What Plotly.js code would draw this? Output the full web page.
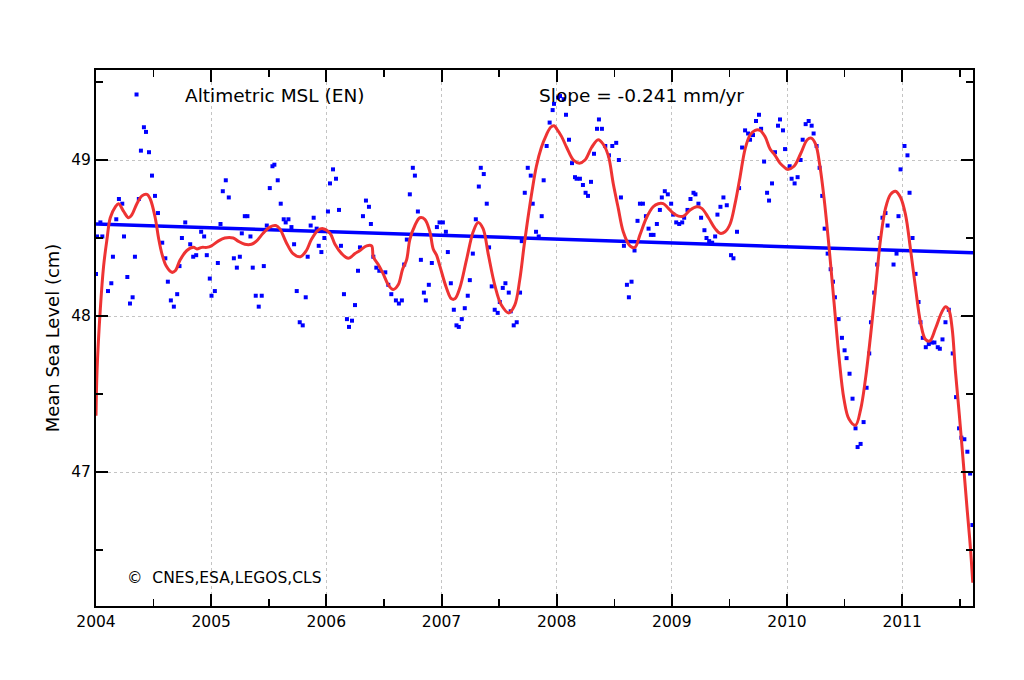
<!DOCTYPE html>
<html>
<head>
<meta charset="utf-8">
<script src="https://cdn.plot.ly/plotly-3.0.1.min.js"></script>
<style>html,body{margin:0;padding:0;background:#fff;}#chart{width:1024px;height:680px;}</style>
</head>
<body>
<div id="chart"></div>
<script>
// Observed mean sea level (cm), ~10-day sampling, decimal years
var obsTime = [
2004.000,2004.009,2004.038,2004.055,2004.104,2004.133,2004.147,2004.176,2004.199,2004.228,
2004.243,2004.272,2004.295,2004.318,2004.338,2004.352,2004.372,2004.390,2004.416,2004.434,
2004.460,2004.486,2004.512,2004.538,2004.575,2004.602,2004.624,2004.650,2004.676,2004.705,
2004.725,2004.746,2004.775,2004.818,2004.844,2004.870,2004.913,2004.939,2004.962,2004.988,
2005.003,2005.032,2005.058,2005.081,2005.101,2005.127,2005.153,2005.197,2005.223,2005.249,
2005.266,2005.292,2005.315,2005.341,2005.361,2005.387,2005.413,2005.439,2005.457,2005.483,
2005.509,2005.532,2005.549,2005.578,2005.604,2005.630,2005.647,2005.671,2005.697,2005.720,
2005.743,2005.769,2005.795,2005.821,2005.838,2005.864,2005.890,2005.916,2005.934,2005.957,
2005.983,2006.014,2006.032,2006.058,2006.084,2006.110,2006.127,2006.153,2006.179,2006.197,
2006.223,2006.249,2006.275,2006.292,2006.318,2006.344,2006.370,2006.387,2006.408,2006.434,
2006.460,2006.512,2006.538,2006.564,2006.604,2006.630,2006.656,2006.676,2006.699,2006.725,
2006.751,2006.769,2006.795,2006.821,2006.847,2006.864,2006.890,2006.916,2006.960,2006.983,
2007.012,2007.038,2007.055,2007.081,2007.107,2007.130,2007.150,2007.176,2007.202,2007.228,
2007.246,2007.272,2007.298,2007.324,2007.341,2007.367,2007.393,2007.413,2007.436,2007.462,
2007.488,2007.506,2007.532,2007.555,2007.584,2007.601,2007.627,2007.653,2007.682,2007.697,
2007.723,2007.749,2007.775,2007.792,2007.821,2007.844,2007.870,2007.887,2007.913,2007.939,
2007.965,2007.977,2008.012,2008.029,2008.061,2008.081,2008.107,2008.133,2008.159,2008.173,
2008.202,2008.228,2008.251,2008.272,2008.298,2008.324,2008.350,2008.367,2008.393,2008.422,
2008.454,2008.483,2008.517,2008.540,2008.558,2008.584,2008.610,2008.627,2008.650,2008.676,
2008.702,2008.723,2008.749,2008.775,2008.798,2008.818,2008.841,2008.870,2008.896,2008.913,
2008.939,2008.965,2008.994,2009.012,2009.038,2009.064,2009.090,2009.107,2009.136,2009.162,
2009.188,2009.205,2009.231,2009.254,2009.283,2009.301,2009.324,2009.350,2009.376,2009.396,
2009.422,2009.448,2009.477,2009.514,2009.535,2009.566,2009.584,2009.610,2009.636,2009.662,
2009.679,2009.705,2009.731,2009.757,2009.775,2009.801,2009.827,2009.844,2009.870,2009.896,
2009.922,2009.939,2009.965,2009.983,2010.023,2010.040,2010.066,2010.092,2010.118,2010.136,
2010.162,2010.188,2010.214,2010.231,2010.257,2010.283,2010.306,2010.327,2010.353,2010.379,
2010.399,2010.416,2010.448,2010.477,2010.500,2010.517,2010.543,2010.569,2010.595,2010.613,
2010.639,2010.665,2010.691,2010.714,2010.729,2010.757,2010.783,2010.803,2010.829,2010.855,
2010.873,2010.925,2010.951,2010.968,2010.986,2011.020,2011.046,2011.064,2011.090,2011.116,
2011.142,2011.159,2011.179,2011.205,2011.231,2011.257,2011.280,2011.309,2011.327,2011.350,
2011.376,2011.405,2011.439,2011.468,2011.494,2011.514,2011.540,2011.566,2011.590,2011.610
];
var obsMsl = [
48.27,48.51,48.60,48.51,48.16,48.21,48.38,48.62,48.75,48.72,
48.51,48.25,48.08,48.12,48.38,49.42,48.75,49.06,49.21,49.18,
49.05,48.90,48.77,48.66,48.47,48.37,48.22,48.10,48.06,48.14,
48.32,48.50,48.60,48.46,48.38,48.39,48.54,48.51,48.39,48.24,
48.13,48.16,48.34,48.59,48.80,48.87,48.76,48.37,48.31,48.38,
48.53,48.64,48.64,48.51,48.31,48.13,48.06,48.13,48.32,48.58,
48.82,48.96,48.97,48.87,48.72,48.62,48.60,48.62,48.57,48.46,
48.16,47.96,47.94,48.12,48.38,48.58,48.63,48.56,48.45,48.41,
48.50,48.67,48.85,48.94,48.88,48.68,48.45,48.14,47.98,47.93,
47.97,48.07,48.29,48.44,48.64,48.74,48.70,48.59,48.38,48.31,
48.29,48.28,48.20,48.14,48.10,48.08,48.10,48.33,48.49,48.78,
48.95,48.90,48.67,48.36,48.15,48.10,48.20,48.34,48.57,48.60,
48.60,48.54,48.41,48.21,48.04,47.94,47.93,47.98,48.05,48.13,
48.23,48.40,48.62,48.83,48.95,48.91,48.72,48.44,48.19,48.04,
48.02,48.09,48.18,48.21,48.15,48.03,47.94,47.96,48.15,48.48,
48.79,48.95,48.90,48.72,48.54,48.51,48.64,48.87,49.09,49.24,
49.32,49.36,49.40,49.41,49.39,49.29,49.13,48.98,48.89,48.88,
48.88,48.84,48.79,48.77,48.86,49.04,49.20,49.26,49.20,49.09,
49.03,49.09,49.11,49.00,48.76,48.45,48.20,48.12,48.22,48.42,
48.61,48.72,48.72,48.64,48.56,48.52,48.52,48.59,48.68,48.76,
48.80,48.78,48.72,48.65,48.60,48.59,48.60,48.63,48.68,48.75,
48.79,48.78,48.72,48.63,48.55,48.50,48.48,48.47,48.51,48.65,
48.70,48.76,48.71,48.39,48.37,48.54,48.82,49.08,49.19,49.17,
49.13,49.16,49.25,49.29,49.20,48.99,48.79,48.74,48.85,49.05,
49.22,49.26,49.19,49.07,48.96,48.88,48.85,48.89,49.00,49.13,
49.23,49.25,49.22,49.17,49.09,48.95,48.77,48.56,48.40,48.30,
48.22,48.12,47.98,47.86,47.78,47.73,47.63,47.47,47.28,47.16,
47.18,47.32,47.54,47.76,47.96,48.15,48.33,48.50,48.63,48.66,
48.58,48.33,48.40,48.64,48.94,49.09,49.03,48.79,48.50,48.27,
48.09,47.96,47.86,47.80,47.82,47.83,47.83,47.80,47.79,47.85,
47.96,48.04,47.76,47.48,47.28,47.22,47.21,47.13,46.99,46.66
];
// Smoothed (filtered) curve
var smoothTime = [
2004.000,2004.009,2004.038,2004.066,2004.095,2004.124,2004.168,2004.197,2004.240,2004.283,
2004.312,2004.355,2004.399,2004.442,2004.471,2004.514,2004.543,2004.572,2004.610,2004.659,
2004.688,2004.731,2004.789,2004.847,2004.876,2004.919,2004.962,2005.003,2005.061,2005.118,
2005.191,2005.234,2005.292,2005.350,2005.393,2005.451,2005.509,2005.561,2005.595,2005.653,
2005.711,2005.775,2005.827,2005.870,2005.928,2005.971,2006.032,2006.075,2006.133,2006.191,
2006.249,2006.292,2006.350,2006.393,2006.408,2006.451,2006.494,2006.538,2006.581,2006.624,
2006.662,2006.697,2006.725,2006.769,2006.812,2006.855,2006.899,2006.928,2006.957,2006.986,
2007.043,2007.087,2007.116,2007.159,2007.217,2007.275,2007.318,2007.361,2007.405,2007.462,
2007.520,2007.584,2007.636,2007.679,2007.717,2007.751,2007.786,2007.824,2007.867,2007.910,
2007.948,2007.977,2008.000,2008.043,2008.087,2008.145,2008.197,2008.246,2008.303,2008.361,
2008.405,2008.448,2008.491,2008.535,2008.578,2008.636,2008.679,2008.723,2008.780,2008.838,
2008.882,2008.925,2008.970,2009.010,2009.058,2009.101,2009.159,2009.217,2009.260,2009.318,
2009.376,2009.419,2009.462,2009.506,2009.549,2009.592,2009.636,2009.679,2009.723,2009.766,
2009.809,2009.853,2009.896,2009.939,2009.983,2010.003,2010.061,2010.118,2010.176,2010.211,
2010.249,2010.286,2010.321,2010.364,2010.408,2010.451,2010.494,2010.538,2010.595,2010.639,
2010.682,2010.725,2010.769,2010.812,2010.855,2010.899,2010.942,2010.986,2011.029,2011.072,
2011.116,2011.159,2011.202,2011.240,2011.289,2011.341,2011.376,2011.405,2011.434,2011.462,
2011.497,2011.532,2011.564,2011.592,2011.613
];
var smoothMsl = [
47.36,47.65,48.05,48.32,48.49,48.63,48.70,48.72,48.67,48.63,
48.65,48.72,48.77,48.78,48.75,48.63,48.50,48.40,48.32,48.28,
48.29,48.36,48.42,48.44,48.43,48.44,48.44,48.45,48.48,48.50,
48.50,48.48,48.46,48.46,48.48,48.53,48.57,48.58,48.56,48.47,
48.40,48.38,48.42,48.49,48.55,48.56,48.53,48.46,48.40,48.37,
48.40,48.42,48.45,48.45,48.38,48.33,48.27,48.20,48.17,48.20,
48.30,48.36,48.49,48.58,48.63,48.62,48.54,48.43,48.39,48.32,
48.18,48.11,48.11,48.18,48.36,48.54,48.60,48.56,48.40,48.20,
48.07,48.02,48.07,48.23,48.45,48.63,48.80,48.96,49.08,49.16,
49.21,49.22,49.20,49.15,49.08,49.00,48.98,49.00,49.08,49.13,
49.10,49.03,48.85,48.69,48.54,48.45,48.44,48.52,48.63,48.70,
48.72,48.72,48.69,48.66,48.64,48.64,48.68,48.70,48.69,48.63,
48.56,48.53,48.54,48.59,48.72,48.89,49.07,49.16,49.19,49.19,
49.15,49.07,49.03,48.98,48.95,48.94,48.96,49.04,49.13,49.14,
49.10,48.96,48.76,48.45,48.09,47.74,47.47,47.34,47.30,47.40,
47.60,47.87,48.18,48.49,48.69,48.78,48.80,48.76,48.65,48.43,
48.18,47.96,47.85,47.84,47.92,48.02,48.06,48.04,47.92,47.65,
47.36,47.05,46.76,46.52,46.29
];
// Linear trend (slope -0.241 mm/yr)
var trendTime = [2004.0, 2011.615];
var trendMsl = [48.59, 48.405];

var yearTicks = [2004, 2005, 2006, 2007, 2008, 2009, 2010, 2011];
var yearLabels = ['2004', '2005', '2006', '2007', '2008', '2009', '2010', '2011'];
var mslTicks = [47, 48, 49];
var mslLabels = ['47', '48', '49'];

var titleText = 'Altimetric MSL (EN)';
var slopeText = 'Slope = -0.241 mm/yr';
var creditText = '\u00A9  CNES,ESA,LEGOS,CLS';
var yTitle = 'Mean Sea Level (cm)';

var FONT = 'DejaVu Sans, Liberation Sans, sans-serif';

var traces = [
  {x: obsTime, y: obsMsl, type: 'scatter', mode: 'markers',
   marker: {symbol: 'square', size: 4, color: '#0000ff', line: {width: 0}}, hoverinfo: 'x+y'},
  {x: trendTime, y: trendMsl, type: 'scatter', mode: 'lines',
   line: {color: '#0000ff', width: 3.5}},
  {x: smoothTime, y: smoothMsl, type: 'scatter', mode: 'lines',
   line: {color: '#ee3333', width: 3, shape: 'spline', smoothing: 1}}
];

var layout = {
  width: 1024, height: 680,
  margin: {l: 96, r: 51, t: 70, b: 74},
  paper_bgcolor: '#ffffff', plot_bgcolor: '#ffffff',
  showlegend: false,
  font: {family: FONT, size: 15.5, color: '#000'},
  xaxis: {
    range: [2004, 2011.615], tickmode: 'array', tickvals: yearTicks, ticktext: yearLabels,
    ticks: 'inside', ticklen: 12, tickwidth: 2, tickcolor: '#000',
    showline: true, linecolor: '#000', linewidth: 2, mirror: 'ticks',
    showgrid: true, gridcolor: '#c4c4c4', griddash: '3px,3px', gridwidth: 1,
    zeroline: false, tickfont: {family: FONT, size: 15.5, color: '#000'},
    minor: {dtick: 0.5, tick0: 2004, ticks: 'inside', ticklen: 7, tickwidth: 1.5, tickcolor: '#000', showgrid: false}
  },
  yaxis: {
    range: [46.141, 49.577], tickmode: 'array', tickvals: mslTicks, ticktext: mslLabels,
    ticks: 'inside', ticklen: 12, tickwidth: 2, tickcolor: '#000',
    showline: true, linecolor: '#000', linewidth: 2, mirror: 'ticks',
    showgrid: true, gridcolor: '#c4c4c4', griddash: '3px,3px', gridwidth: 1,
    zeroline: false, tickfont: {family: FONT, size: 15.5, color: '#000'},
    title: {text: yTitle, font: {family: FONT, size: 18, color: '#000'}, standoff: 7},
    minor: {dtick: 0.5, tick0: 46.5, ticks: 'inside', ticklen: 7, tickwidth: 1.5, tickcolor: '#000', showgrid: false}
  },
  annotations: [
    {xref: 'paper', yref: 'paper', x: 0.0992, y: 0.953, xanchor: 'left', yanchor: 'middle',
     text: titleText, showarrow: false, font: {family: FONT, size: 18.5, color: '#000'}},
    {xref: 'paper', yref: 'paper', x: 0.503, y: 0.953, xanchor: 'left', yanchor: 'middle',
     text: slopeText, showarrow: false, font: {family: FONT, size: 18.5, color: '#000'}},
    {xref: 'paper', yref: 'paper', x: 0.033, y: 0.052, xanchor: 'left', yanchor: 'middle',
     text: creditText, showarrow: false, font: {family: FONT, size: 15.5, color: '#000'}}
  ]
};

Plotly.newPlot('chart', traces, layout, {displayModeBar: false, staticPlot: true});
</script>
</body>
</html>
